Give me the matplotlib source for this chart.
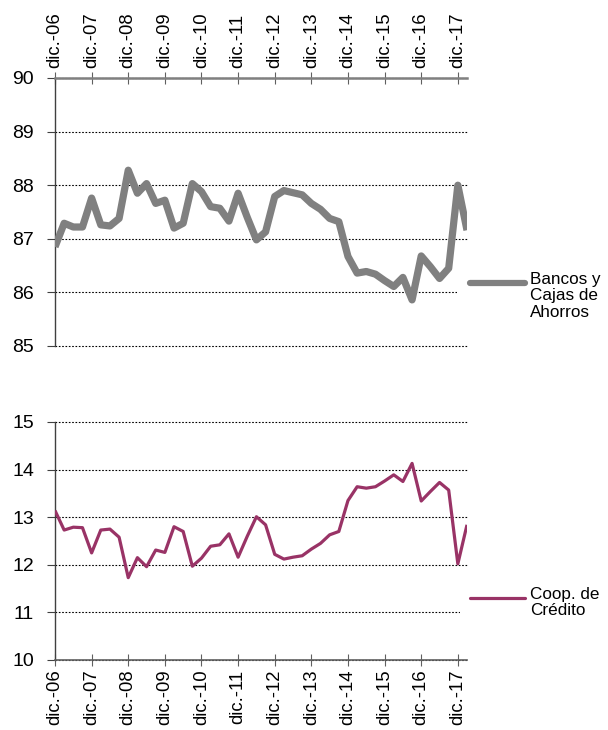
import matplotlib
matplotlib.use("Agg")
import matplotlib.pyplot as plt
from matplotlib.ticker import FixedLocator
from matplotlib.patches import Rectangle

plt.rcParams['font.family'] = ['Liberation Sans', 'DejaVu Sans']

# Quarterly series, dic-06 .. mar-18
bancos = [86.85, 87.29, 87.22, 87.22, 87.76, 87.26, 87.24, 87.38, 88.28, 87.85,
          88.03, 87.66, 87.72, 87.20, 87.29, 88.03, 87.88, 87.60, 87.57, 87.33,
          87.85, 87.40, 86.98, 87.13, 87.79, 87.90, 87.86, 87.82, 87.66, 87.55,
          87.38, 87.32, 86.67, 86.36, 86.39, 86.34, 86.22, 86.11, 86.28, 85.86,
          86.68, 86.48, 86.26, 86.45, 88.00, 87.16]
coop = [13.14, 12.73, 12.79, 12.78, 12.25, 12.73, 12.75, 12.58, 11.73, 12.15,
        11.96, 12.31, 12.26, 12.80, 12.70, 11.97, 12.14, 12.39, 12.42, 12.65,
        12.16, 12.60, 13.01, 12.84, 12.22, 12.12, 12.16, 12.19, 12.33, 12.45,
        12.63, 12.70, 13.35, 13.64, 13.61, 13.64, 13.76, 13.89, 13.75, 14.13,
        13.34, 13.54, 13.73, 13.57, 12.02, 12.84]
year_labels = ['dic.-06', 'dic.-07', 'dic.-08', 'dic.-09', 'dic.-10', 'dic.-11',
               'dic.-12', 'dic.-13', 'dic.-14', 'dic.-15', 'dic.-16', 'dic.-17']
label_bancos = 'Bancos y\nCajas de\nAhorros'
label_coop = 'Coop. de\nCrédito'

x = list(range(len(bancos)))
tick_pos = [4 * k for k in range(len(year_labels))]

W, H = 608, 730
fig = plt.figure(figsize=(W / 100, H / 100), dpi=100)

def fx(px):
    return px / W

def fy(py):
    return 1 - py / H

left, right = 55, 467
top1, bot1 = 78, 346
top2, bot2 = 422, 660
ax1 = fig.add_axes([fx(left), fy(bot1), fx(right - left), (bot1 - top1) / H])
ax2 = fig.add_axes([fx(left), fy(bot2), fx(right - left), (bot2 - top2) / H])

gray = '#808080'
maroon = '#993366'

ax1.plot(x, bancos, color=gray, lw=5.2, solid_joinstyle='round', solid_capstyle='butt', zorder=3)
ax2.plot(x, coop, color=maroon, lw=2.3, solid_joinstyle='round', solid_capstyle='butt', zorder=3)

for ax, lo, hi in ((ax1, 85, 90), (ax2, 10, 15)):
    ax.set_xlim(0, len(bancos) - 1)
    ax.set_ylim(lo, hi)
    ax.set_yticks(range(lo, hi + 1))
    ax.xaxis.set_major_locator(FixedLocator(tick_pos))
    ax.set_xticklabels(year_labels, rotation=90, fontsize=13.3)
    ax.tick_params(axis='y', labelsize=14, direction='out', length=6, color='#404040', pad=9)
    ax.tick_params(axis='x', direction='inout', length=8, color='#606060', pad=3)
    ax.grid(axis='y', linestyle=(0, (1.5, 1.5)), color='black', lw=0.8)
    for gl in ax.get_ygridlines():
        gl.set_clip_on(False)
    ax.set_axisbelow(True)
    ax.spines['right'].set_visible(False)
    ax.spines['left'].set_color('#404040')
    ax.spines['left'].set_linewidth(1.0)

# top panel: x axis on top
ax1.xaxis.tick_top()
ax1.spines['bottom'].set_visible(False)
ax1.spines['top'].set_color('#808080')
ax1.spines['top'].set_linewidth(1.8)
ax2.spines['top'].set_visible(False)
ax2.spines['bottom'].set_color('#606060')
ax2.spines['bottom'].set_linewidth(1.2)

# Legends (Excel style: white box, key aligned with first text line)
def legend_entry(ax, top_px, bot_px, y_line_px, box, text, color, lw):
    span = right - left
    hgt = bot_px - top_px
    bx0, by0, bx1, by1 = box
    ax.add_patch(Rectangle(((bx0 - left) / span, (bot_px - by1) / hgt),
                           (bx1 - bx0) / span, (by1 - by0) / hgt,
                           transform=ax.transAxes, facecolor='white', edgecolor='none',
                           clip_on=False, zorder=1.5))
    x0 = (470 - left) / span
    x1 = (525 - left) / span
    yl = (bot_px - y_line_px) / hgt
    ax.plot([x0, x1], [yl, yl], transform=ax.transAxes, color=color, lw=lw,
            clip_on=False, solid_capstyle='round', zorder=4)
    ax.text((530 - left) / span, (bot_px - (y_line_px - 11)) / hgt, text,
            transform=ax.transAxes, ha='left', va='top', fontsize=12.3,
            linespacing=1.12, color='black', zorder=4)

legend_entry(ax1, top1, bot1, 283, (457, 262, 608, 332), label_bancos, gray, 4.5)
legend_entry(ax2, top2, bot2, 597.5, (460, 580, 608, 640), label_coop, maroon, 2.3)

fig.savefig('out.png', dpi=100)
